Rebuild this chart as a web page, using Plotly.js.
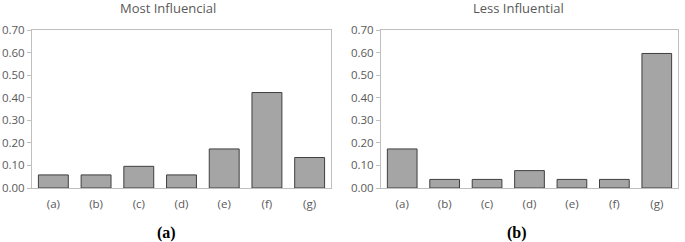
<!DOCTYPE html>
<html><head><meta charset="utf-8">
<script src="https://cdn.plot.ly/plotly-3.0.1.min.js"></script>
<style>body{margin:0;padding:0;background:#fff}#c{width:685px;height:242px}</style>
</head><body><div id="c"></div>
<script>
const categories = ["(a)","(b)","(c)","(d)","(e)","(f)","(g)"];
const mostInfluential = [0.058, 0.058, 0.096, 0.058, 0.173, 0.423, 0.135];
const lessInfluential = [0.173, 0.038, 0.038, 0.077, 0.038, 0.038, 0.596];
const yTicks = [0, 0.1, 0.2, 0.3, 0.4, 0.5, 0.6, 0.7];
const titles = ["Most Influencial", "Less Influential"];
const panelLabels = ["(a)", "(b)"];

const bar = {color:"#a5a5a5", line:{color:"#3f3f3f", width:1}};
const traces = [
  {type:"bar", x:categories, y:mostInfluential, xaxis:"x", yaxis:"y", marker:bar, hoverinfo:"none"},
  {type:"bar", x:categories, y:lessInfluential, xaxis:"x2", yaxis:"y2", marker:bar, hoverinfo:"none"}
];
const tickFont = {family:"Open Sans, sans-serif", size:11.5, color:"#595959"};
function xa(dom, anchor){return {domain:dom, anchor:anchor, showgrid:false, showline:true, linecolor:"#bfbfbf", linewidth:1, mirror:true, ticks:"", tickfont:tickFont, ticklabelstandoff:5, fixedrange:true};}
function ya(dom, anchor){return {domain:dom, anchor:anchor, range:[0,0.7], tickvals:yTicks, tickformat:".2f", showgrid:false, showline:true, linecolor:"#bfbfbf", linewidth:1, mirror:true, ticks:"outside", ticklen:4, tickcolor:"#bfbfbf", tickfont:tickFont, zeroline:false, fixedrange:true};}
const yd = [54/242, 212/242];
const titleFont = {family:"Open Sans, sans-serif", size:13, color:"#595959"};
const labFont = {family:"Liberation Serif, serif", size:16, color:"#000"};
const layout = {
  width:685, height:242, margin:{l:0,r:0,t:0,b:0}, showlegend:false, bargap:0.3,
  paper_bgcolor:"#fff", plot_bgcolor:"#fff",
  xaxis: xa([32/685, 331/685], "y"),
  yaxis: ya(yd, "x"),
  xaxis2: xa([381/685, 678/685], "y2"),
  yaxis2: ya(yd, "x2"),
  annotations: [
    {text:titles[0], x:168/685, y:1-8/242, xanchor:"center", yanchor:"middle", xref:"paper", yref:"paper", showarrow:false, font:titleFont},
    {text:titles[1], x:518/685, y:1-8/242, xanchor:"center", yanchor:"middle", xref:"paper", yref:"paper", showarrow:false, font:titleFont},
    {text:"<b>"+panelLabels[0]+"</b>", x:166/685, y:1-233/242, xanchor:"center", yanchor:"middle", xref:"paper", yref:"paper", showarrow:false, font:labFont},
    {text:"<b>"+panelLabels[1]+"</b>", x:517/685, y:1-233/242, xanchor:"center", yanchor:"middle", xref:"paper", yref:"paper", showarrow:false, font:labFont}
  ]
};
Plotly.newPlot("c", traces, layout, {staticPlot:true, displayModeBar:false});
</script></body></html>
